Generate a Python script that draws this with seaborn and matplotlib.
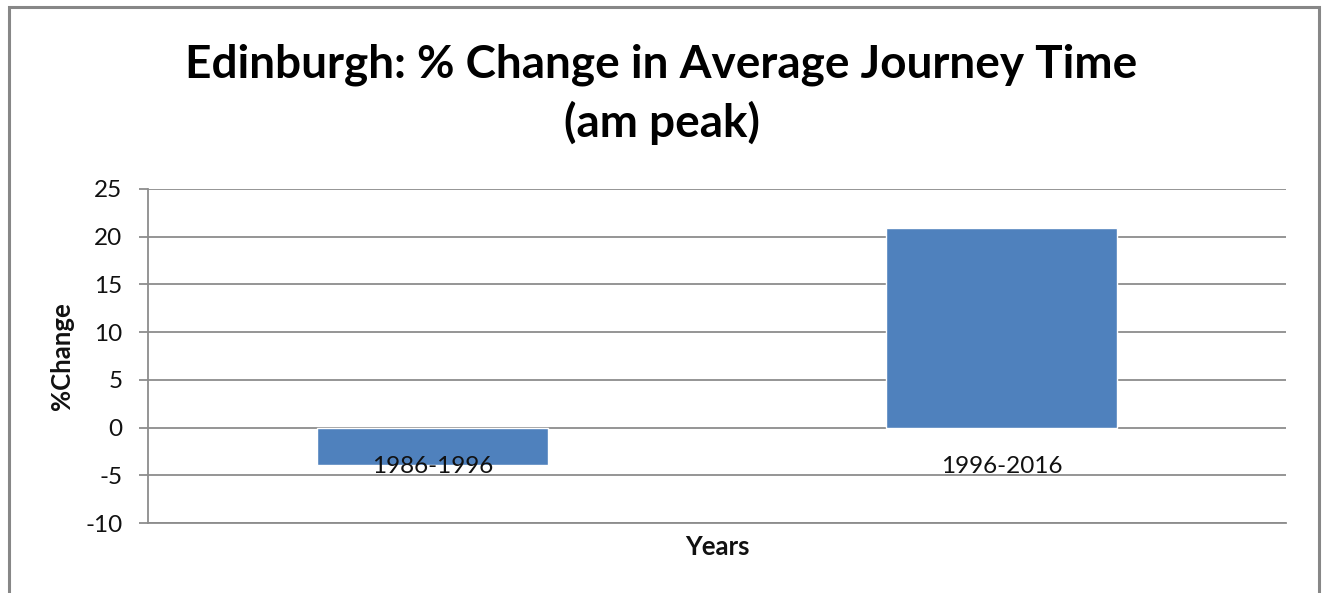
import matplotlib
matplotlib.use('Agg')
import matplotlib.pyplot as plt
import seaborn as sns
import pandas as pd
from matplotlib.patches import Rectangle

# data
periods = ['1986-1996', '1996-2016']
pct_change = [-3.9, 20.9]
yticks = [-10, -5, 0, 5, 10, 15, 20, 25]

df = pd.DataFrame({'period': periods, 'change': pct_change})

sns.set_style('white')
plt.rcParams['font.family'] = ['Lato', 'DejaVu Sans']

grid_col = '#8c8c8c'
txt_col = '#111111'
fig = plt.figure(figsize=(13.24, 5.93), dpi=100)
ax = fig.add_axes([0.1118, 0.1180, 0.8595, 0.5633])

sns.barplot(data=df, x='period', y='change', ax=ax, color='#4F81BD',
            saturation=1, width=0.406, zorder=3)

ax.set_ylim(-10, 25)
ax.set_xlim(-0.5, 1.5)
ax.set_yticks(yticks)
ax.set_yticklabels([str(t) for t in yticks], fontsize=17.5, color=txt_col)
ax.yaxis.grid(True, color=grid_col, linewidth=1.3, zorder=0)
ax.set_axisbelow(True)
ax.tick_params(axis='y', length=6.5, width=1.3, color=grid_col, pad=12, left=True)
ax.tick_params(axis='x', bottom=False, labelbottom=False)
for s in ['top', 'right']:
    ax.spines[s].set_visible(False)
for s in ['left', 'bottom']:
    ax.spines[s].set_color(grid_col)
    ax.spines[s].set_linewidth(1.3)
ax.set_xlabel('')
ax.set_ylabel('')

# category labels sit just under the zero line
for i, p in enumerate(periods):
    ax.annotate(p, xy=(i, 0), xytext=(0, -33), textcoords='offset points',
                ha='center', va='baseline', fontsize=17.5, color=txt_col, zorder=5)

fig.text(661.5 / 1324, 1 - 77 / 593, 'Edinburgh: % Change in Average Journey Time',
         ha='center', va='baseline', fontsize=33, fontweight='bold', color='black')
fig.text(662.5 / 1324, 1 - 137 / 593, '(am peak)',
         ha='center', va='baseline', fontsize=33, fontweight='bold', color='black')
fig.text(62 / 1324, 1 - 356 / 593, '%Change', rotation=90, ha='center', va='center',
         fontsize=18.5, fontweight='bold', color=txt_col)
fig.text(717 / 1324, 1 - 547 / 593, 'Years', ha='center', va='center',
         fontsize=18.5, fontweight='bold', color=txt_col)

# outer chart frame, bottom edge runs off the image
fig.patches.append(Rectangle((9 / 1324, -0.2), 1310 / 1324, 1.2 - 7 / 593,
                             transform=fig.transFigure, fill=False,
                             edgecolor='#878787', linewidth=2.2, clip_on=False))

fig.savefig('out.png', dpi=100, facecolor='white')
